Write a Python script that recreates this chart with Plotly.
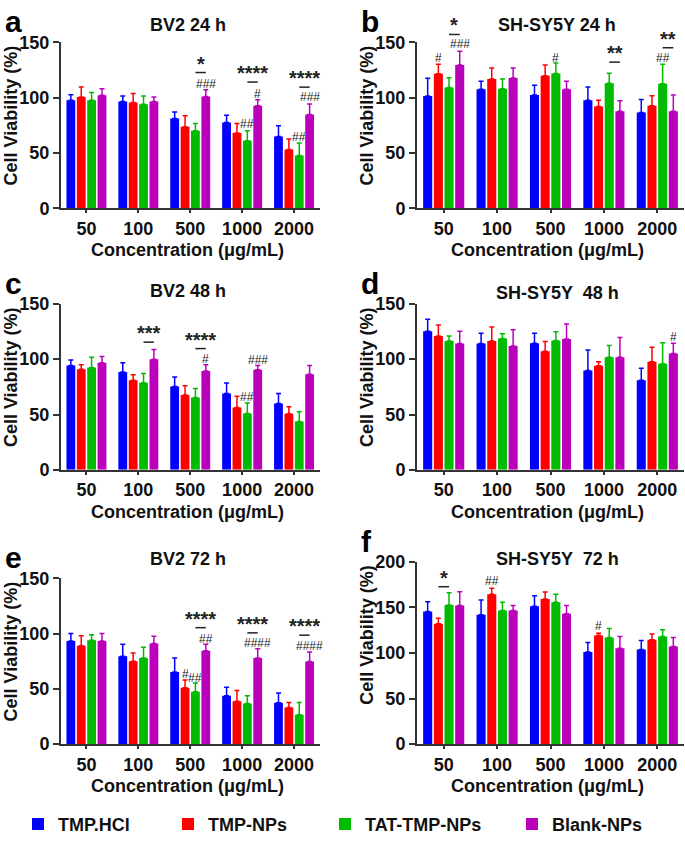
import plotly.graph_objects as go
from plotly.subplots import make_subplots

W, H = 685, 844
FONT = "Arial, Liberation Sans, sans-serif"

CONCS = ["50", "100", "500", "1000", "2000"]
SERIES = ["TMP.HCl", "TMP-NPs", "TAT-TMP-NPs", "Blank-NPs"]
COLORS = ["#0000ff", "#ff0000", "#00bb00", "#bb00bb"]

# mean / SD per series (rows: TMP.HCl, TMP-NPs, TAT-TMP-NPs, Blank-NPs)
A_MEAN = [[97.6, 96.5, 81, 77.4, 64.7], [100.6, 95.6, 73.5, 68, 53],
          [97.6, 94, 70, 61, 47.6], [102, 96.5, 101, 92.6, 84.7]]
A_SD = [[5, 5, 6, 6.6, 9.7], [9, 8, 10, 8.5, 9.6],
        [7, 7.5, 6.5, 9, 11.4], [6, 4, 6, 5.4, 9.4]]

B_MEAN = [[101.5, 107.4, 102.4, 97.6, 86.5], [121.5, 116.8, 119.7, 91.8, 92.6],
          [109, 108, 121.8, 113, 112.4], [129.4, 117.6, 107.4, 87.6, 87.6]]
B_SD = [[16, 7.3, 8.6, 12, 11.7], [8.5, 10, 9.7, 5.8, 9],
        [9, 8.8, 9.5, 9, 17.6], [12.4, 9, 7.3, 9.4, 14.8]]

C_MEAN = [[94.3, 88.5, 75.3, 68.9, 60], [91, 81, 67.7, 56.3, 50.7],
          [92.6, 78.8, 65.3, 51, 43.7], [96.7, 100, 89.4, 90.5, 86.4]]
C_SD = [[5, 8.2, 8.5, 9.6, 8.9], [4, 5, 8.2, 10.2, 6.3],
        [9.1, 8.2, 8.2, 9.4, 8.7], [5.8, 8.7, 5.6, 3.8, 7.9]]

D_MEAN = [[125.3, 114.2, 114.5, 89.7, 81], [120.9, 116.5, 107.2, 94, 97.6],
          [116.5, 118.8, 117, 101.7, 95.8], [114.2, 112, 118.3, 101.7, 105.2]]
D_SD = [[10.7, 9.3, 9, 18.7, 10.8], [10.1, 12.5, 8.8, 3.6, 13.1],
        [4.5, 4.2, 7.7, 10.7, 19], [11.1, 14.7, 13.4, 18, 9.3]]

E_MEAN = [[93.2, 79.4, 65.3, 43.8, 37.4], [89, 75, 51, 38.8, 33.2],
          [94, 78, 47.4, 36.8, 26.5], [93.2, 91, 84.4, 78, 74.7]]
E_SD = [[6.8, 10.9, 12.7, 7.7, 8.8], [9, 7.4, 7, 9.7, 4.4],
        [5, 9.6, 7.9, 7, 11.1], [6.8, 6.5, 5.9, 8.2, 8.5]]

F_MEAN = [[145.4, 141.8, 151, 101, 103.6], [132, 164.3, 159, 119, 114.3],
          [152.5, 146.4, 155.4, 116.8, 117.9], [151.8, 146.4, 142.9, 105, 107]]
F_SD = [[10.6, 16.1, 11.5, 10.4, 10], [6, 6.4, 7.8, 2.4, 6.4],
        [13.5, 9, 8.9, 10, 7.5], [15.2, 5.4, 8.9, 12.9, 9.8]]

# significance marks: (concentration idx, series idx, text, y)
A_HASH = [(2, 3, "###", 112), (3, 3, "#", 103.5), (3, 2, "##", 76.5),
          (4, 3, "###", 100.6), (4, 2, "##", 64)]
B_HASH = [(0, 1, "#", 136), (0, 3, "###", 148.5), (2, 2, "#", 136), (4, 2, "##", 136)]
C_HASH = [(2, 3, "#", 100), (3, 2, "##", 66), (3, 3, "###", 99.3)]
D_HASH = [(4, 3, "#", 120.3)]
E_HASH = [(2, 3, "##", 95), (2, 1, "#", 63), (2, 2, "##", 59.7),
          (3, 3, "####", 91), (4, 3, "####", 89)]
F_HASH = [(1, 1, "##", 178.6), (3, 1, "#", 129.6)]

# brackets: (concentration idx, from series, to series, line y, stars)
A_STAR = [(2, 2, 3, 122.6, "*"), (3, 2, 3, 114, "****"), (4, 2, 3, 109.4, "****")]
B_STAR = [(0, 2, 3, 157, "*"), (3, 2, 3, 132, "**"), (4, 2, 3, 145, "**")]
C_STAR = [(1, 2, 3, 115.4, "***"), (2, 2, 3, 109.6, "****")]
D_STAR = []
E_STAR = [(2, 2, 3, 105.3, "****"), (3, 2, 3, 100.6, "****"), (4, 2, 3, 98.5, "****")]
F_STAR = [(0, 1, 2, 172.5, "*")]

TITLES = ["BV2 24 h", "SH-SY5Y 24 h", "BV2 48 h", "SH-SY5Y  48 h", "BV2 72 h", "SH-SY5Y  72 h"]
LETTERS = ["a", "b", "c", "d", "e", "f"]
YMAX = [150, 150, 150, 150, 150, 200]

PANELS = [
    (A_MEAN, A_SD, A_HASH, A_STAR),
    (B_MEAN, B_SD, B_HASH, B_STAR),
    (C_MEAN, C_SD, C_HASH, C_STAR),
    (D_MEAN, D_SD, D_HASH, D_STAR),
    (E_MEAN, E_SD, E_HASH, E_STAR),
    (F_MEAN, F_SD, F_HASH, F_STAR),
]

# pixel layout of each plot area: left, right, top, bottom
BOX = [(61, 320, 33, 203), (417, 684, 33, 203),
       (61, 320, 301, 471), (417, 684, 301, 471),
       (61, 320, 582, 752), (417, 684, 565, 752)]
XRANGE = [(-0.49, 4.5), (-0.5, 4.5)]
# title centres (px)
TITLE_POS = [(188, 15), (557, 15), (188, 288), (557, 290), (188, 562), (557, 562)]

BARGAP = 0.2
SLOT = (1 - BARGAP) / len(SERIES)


def bar_x(ci, si):
    return ci - (1 - BARGAP) / 2 + SLOT * (si + 0.5)


fig = make_subplots(rows=3, cols=2)
ann = []
shapes = []
INK = "#333333"

for p, (mean, sd, hashes, stars) in enumerate(PANELS):
    row, col = p // 2 + 1, p % 2 + 1
    n = "" if p == 0 else str(p + 1)
    l, r, t, b = BOX[p]
    xr = XRANGE[p % 2]
    ymax = YMAX[p]
    for si, name in enumerate(SERIES):
        fig.add_trace(go.Bar(
            x=list(range(len(CONCS))), y=mean[si], name=name,
            marker=dict(color=COLORS[si], line=dict(width=0)),
            error_y=dict(type="data", symmetric=False, array=sd[si],
                         arrayminus=[0] * len(CONCS), color=COLORS[si],
                         thickness=1.5, width=2.5),
            showlegend=(p == 0),
            legend="legend" if si == 0 else f"legend{si + 1}",
        ), row=row, col=col)

    fig.update_layout({
        f"xaxis{n}": dict(
            domain=[l / W, r / W], range=list(xr),
            tickvals=list(range(len(CONCS))), ticktext=CONCS,
            showline=True, linecolor=INK, linewidth=2,
            ticks="outside", ticklen=3, tickwidth=1.5, tickcolor=INK,
            showgrid=False, zeroline=False,
            tickfont=dict(family=FONT, size=18, color="#111", weight="bold"),
        ),
        f"yaxis{n}": dict(
            domain=[1 - b / H, 1 - t / H], range=[0, ymax], dtick=50,
            showline=True, linecolor=INK, linewidth=2,
            ticks="outside", ticklen=6, tickwidth=2, tickcolor=INK,
            showgrid=False, zeroline=False,
            tickfont=dict(family=FONT, size=18, color="#111", weight="bold"),
        ),
    })

    # marks may sit above the axis top, so place them in domain units
    xdom, ydom = f"x{n} domain", f"y{n} domain"

    def fx(x):
        return (x - xr[0]) / (xr[1] - xr[0])

    for ci, si, txt, y in hashes:
        ann.append(dict(x=fx(bar_x(ci, si)), y=y / ymax, xref=xdom, yref=ydom, text=txt,
                        showarrow=False, xanchor="center", yanchor="middle",
                        font=dict(family=FONT, size=12, color="#222")))
    for ci, s1, s2, y, txt in stars:
        shapes.append(dict(type="line", xref=xdom, yref=ydom,
                           x0=fx(bar_x(ci, s1)), x1=fx(bar_x(ci, s2)),
                           y0=y / ymax, y1=y / ymax,
                           line=dict(color="#222", width=1.5)))
        ann.append(dict(x=fx((bar_x(ci, s1) + bar_x(ci, s2)) / 2), y=y / ymax,
                        xref=xdom, yref=ydom,
                        text=txt, showarrow=False, xanchor="center", yanchor="bottom",
                        yshift=-4,
                        font=dict(family=FONT, size=20, color="#222", weight="bold")))

    # panel letter, title, axis titles
    cx = (l + r) / 2
    tx, ty = TITLE_POS[p]
    ann.append(dict(x=(l - 58) / W, y=1 - (t - 21) / H, xref="paper", yref="paper",
                    text=LETTERS[p], showarrow=False, xanchor="left", yanchor="middle",
                    font=dict(family=FONT, size=30, color="#000", weight="bold")))
    ann.append(dict(x=tx / W, y=1 - ty / H, xref="paper", yref="paper",
                    text=TITLES[p], showarrow=False, xanchor="center", yanchor="middle",
                    font=dict(family=FONT, size=18, color="#111", weight="bold")))
    ann.append(dict(x=(l - 50) / W, y=1 - (t + 75) / H, xref="paper", yref="paper",
                    text="Cell Viability (%)", showarrow=False, textangle=-90,
                    xanchor="center", yanchor="middle",
                    font=dict(family=FONT, size=18, color="#111", weight="bold")))
    ann.append(dict(x=(cx - 3) / W, y=1 - (b + 43) / H, xref="paper", yref="paper",
                    text="Concentration (μg/mL)", showarrow=False,
                    xanchor="center", yanchor="middle",
                    font=dict(family=FONT, size=18, color="#111", weight="bold")))

LEG_X = [38, 188, 345, 532]
legends = {}
for si in range(len(SERIES)):
    key = "legend" if si == 0 else f"legend{si + 1}"
    legends[key] = dict(
        orientation="h", x=(LEG_X[si] - 20) / W, y=1 - 834 / H,
        xanchor="left", yanchor="middle", bgcolor="rgba(0,0,0,0)",
        font=dict(family=FONT, size=18, color="#111", weight="bold"),
    )

fig.update_layout(
    width=W, height=H, autosize=False,
    margin=dict(l=0, r=0, t=0, b=0),
    paper_bgcolor="white", plot_bgcolor="white",
    barmode="group", bargap=BARGAP, bargroupgap=0.15,
    annotations=ann, shapes=shapes,
    **legends,
)

fig.write_html("out.html", config={"displayModeBar": False},
               post_script="document.body.style.margin = '0';")
